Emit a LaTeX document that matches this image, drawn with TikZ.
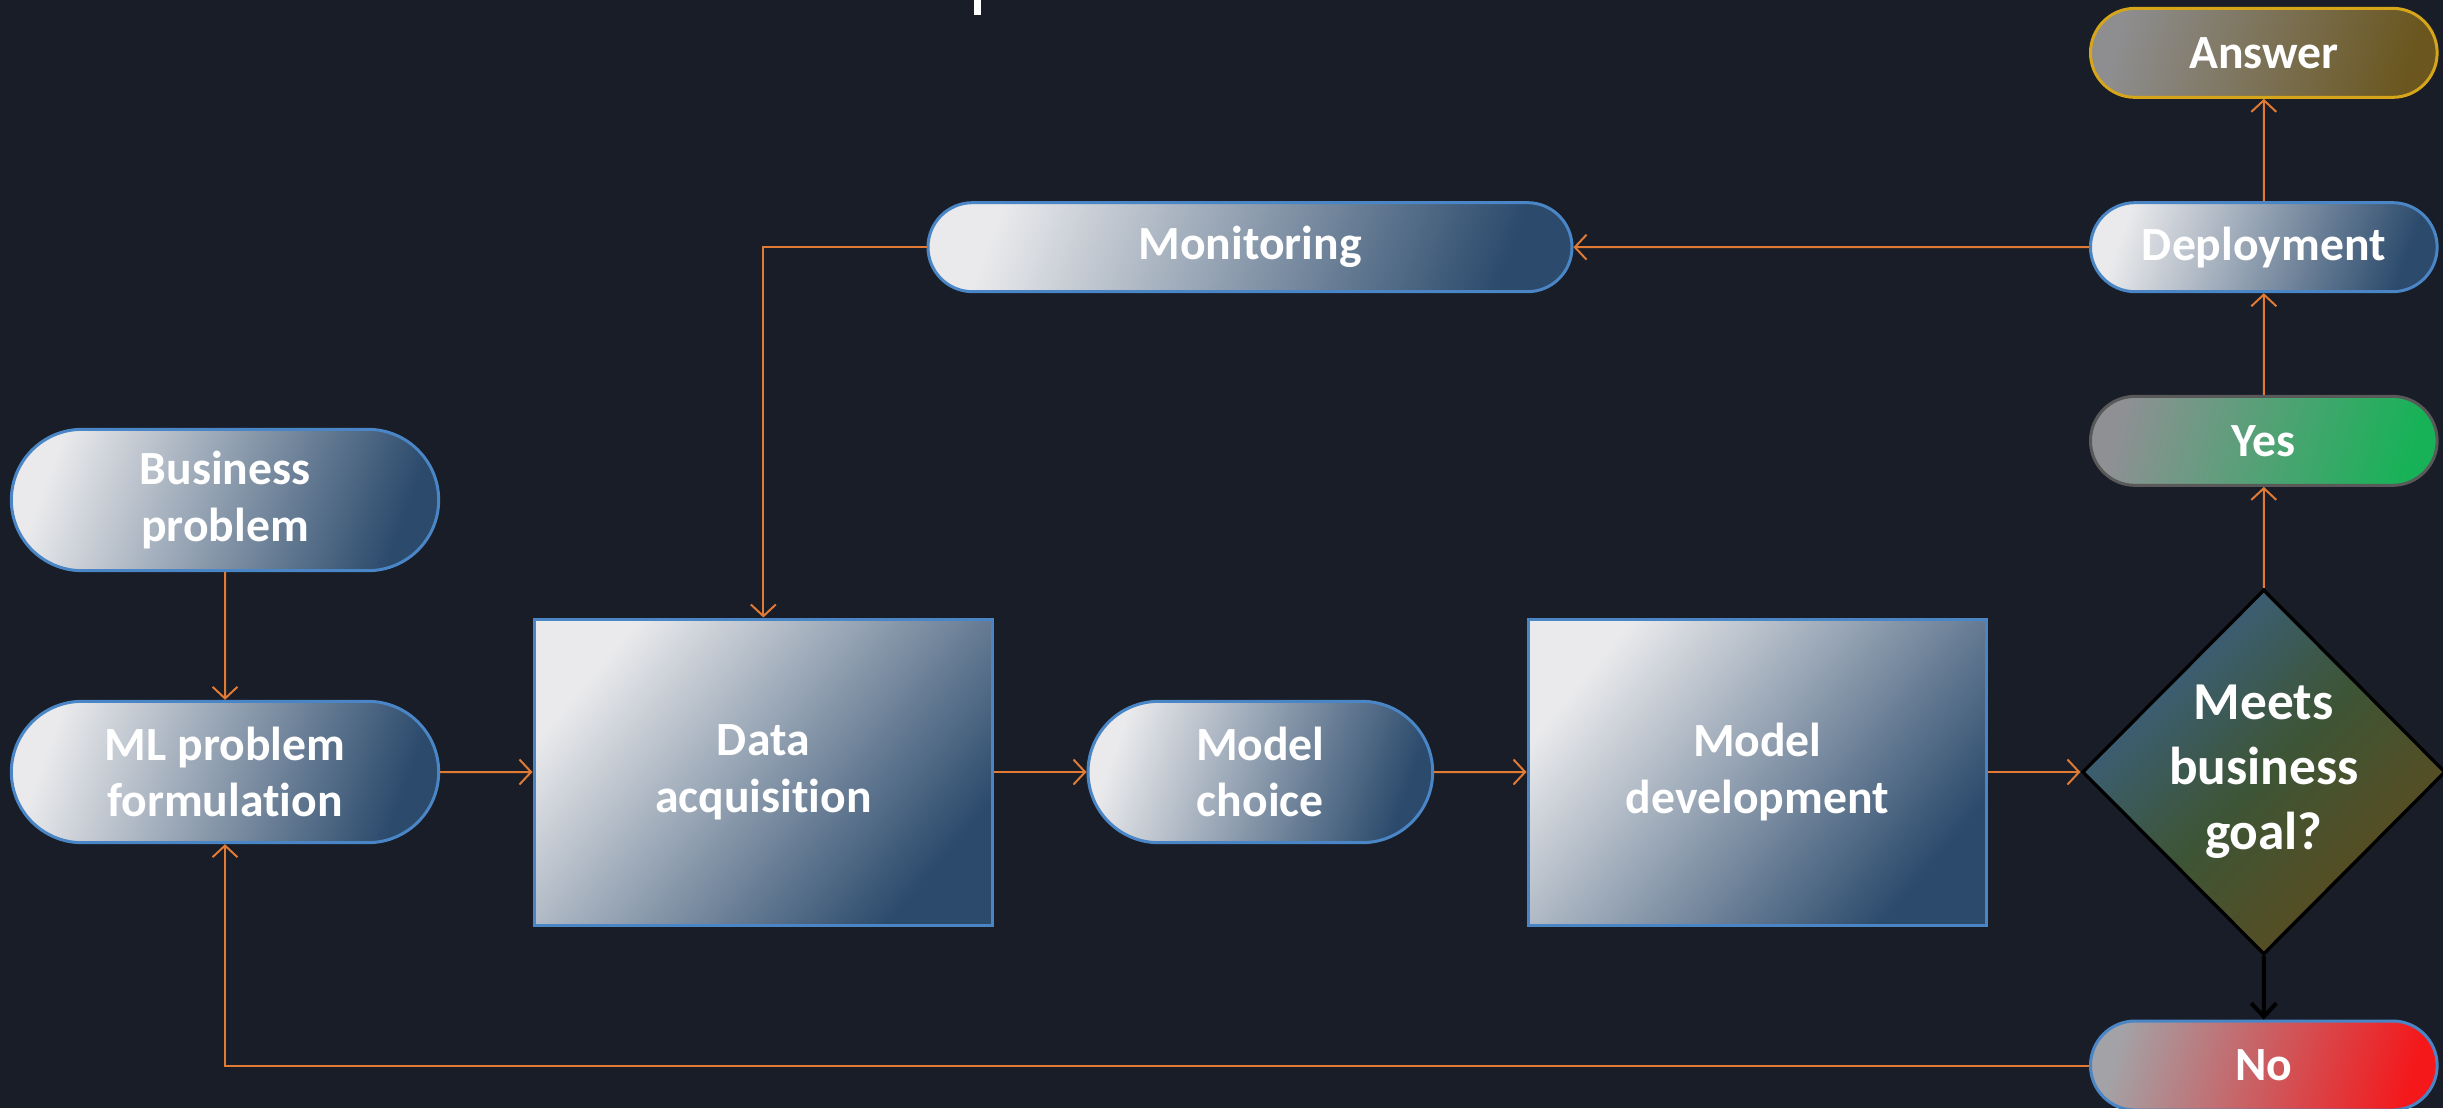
\documentclass[tikz,border=0pt]{standalone}
\usepackage{fontspec}
\setmainfont{Carlito}[Ligatures=NoCommon]
\usepackage{xcolor}
\usetikzlibrary{shapes,arrows.meta,positioning}

\definecolor{bgdark}{HTML}{181D27}
\definecolor{pillLight}{HTML}{EAEAEC}
\definecolor{pillDark}{HTML}{2B4A6C}
\definecolor{boxline}{HTML}{4A86C6}
\definecolor{flowline}{HTML}{E07A35}
\definecolor{ansLeft}{HTML}{8E8E90}
\definecolor{ansRight}{HTML}{6A561E}
\definecolor{ansLine}{HTML}{D6A51A}
\definecolor{yesLeft}{HTML}{8F9094}
\definecolor{yesRight}{HTML}{17B257}
\definecolor{noLeft}{HTML}{A3A2A6}
\definecolor{noRight}{HTML}{F4181B}
\definecolor{decTop}{HTML}{3B6189}
\definecolor{decMid}{HTML}{3D5536}
\definecolor{decBot}{HTML}{5E4B1C}

\begin{document}
\begin{tikzpicture}[
    node distance=30pt and 27.7pt,
    pill/.style={rounded rectangle, draw=boxline, line width=0.9pt,
                 minimum width=104pt, minimum height=26.7pt, inner sep=0pt,
                 align=center, text=white, font=\fontsize{14.3}{17}\selectfont\bfseries,
                 left color=pillLight, right color=pillDark, shading angle=70},
    tallpill/.style={pill, minimum width=128.2pt, minimum height=42.4pt},
    procbox/.style={rectangle, draw=boxline, line width=0.9pt,
                    minimum width=137.6pt, minimum height=91.8pt, inner sep=0pt,
                    align=center, text=white, font=\fontsize{14.3}{17}\selectfont\bfseries,
                    left color=pillLight, right color=pillDark, shading angle=50},
    decision/.style={diamond, aspect=1, draw=black, line width=1pt,
                     minimum width=108.6pt, minimum height=109.5pt, inner sep=0pt,
                     align=center, text=white, font=\fontsize{16}{19.5}\selectfont\bfseries,
                     top color=decTop, bottom color=decBot, middle color=decMid,
                     shading angle=45},
    flow/.style={draw=flowline, line width=0.6pt, -{Straight Barb[length=3.5pt,width=7.5pt]}},
    stop/.style={draw=black, line width=1.2pt, -{Straight Barb[length=4pt,width=7.5pt]}},
]
    % canvas
    \fill[bgdark] (0,0) rectangle (732.9pt,-332.4pt);
    \useasboundingbox (0,0) rectangle (732.9pt,-332.4pt);
    \fill[white] (292.2pt,0) rectangle (294.3pt,-4.5pt);

    % main row
    \node[tallpill] (mlform) at (67.5pt,-231.6pt) {ML problem\\formulation};
    \node[tallpill, above=38.3pt of mlform] (business) {Business\\problem};
    \node[procbox, right=of mlform] (dataacq) {Data\\acquisition};
    \node[tallpill, minimum width=103.4pt, right=of dataacq] (mchoice) {Model\\choice};
    \node[procbox, right=of mchoice] (mdev) {Model\\development};
    \node[decision, right=of mdev] (goal) {Meets\\business\\goal?};

    % right column
    \node[pill, above=30.3pt of goal, left color=yesLeft, right color=yesRight,
          shading angle=75, draw=gray!70!black] (yes) {Yes};
    \node[pill, above=30.5pt of yes] (deploy) {Deployment};
    \node[pill, above=30.7pt of deploy, left color=ansLeft, right color=ansRight,
          shading angle=75, draw=ansLine] (answer) {Answer};
    \node[pill, below=19pt of goal, left color=noLeft, right color=noRight,
          shading angle=75] (no) {No};
    \node[pill, minimum width=193.2pt] (monitor) at (375pt,0 |- deploy) {Monitoring};

    % connectors
    \draw[flow] (business) -- (mlform);
    \draw[flow] (mlform) -- (dataacq);
    \draw[flow] (dataacq) -- (mchoice);
    \draw[flow] (mchoice) -- (mdev);
    \draw[flow] (mdev) -- (goal);
    \draw[flow] (goal) -- (yes);
    \draw[flow] (yes) -- (deploy);
    \draw[flow] (deploy) -- (answer);
    \draw[flow] (deploy) -- (monitor);
    \draw[flow] (monitor.west) -| (dataacq.north);
    \draw[stop] (goal) -- (no);
    \draw[flow] (no.west) -| (mlform.south);
\end{tikzpicture}
\end{document}
